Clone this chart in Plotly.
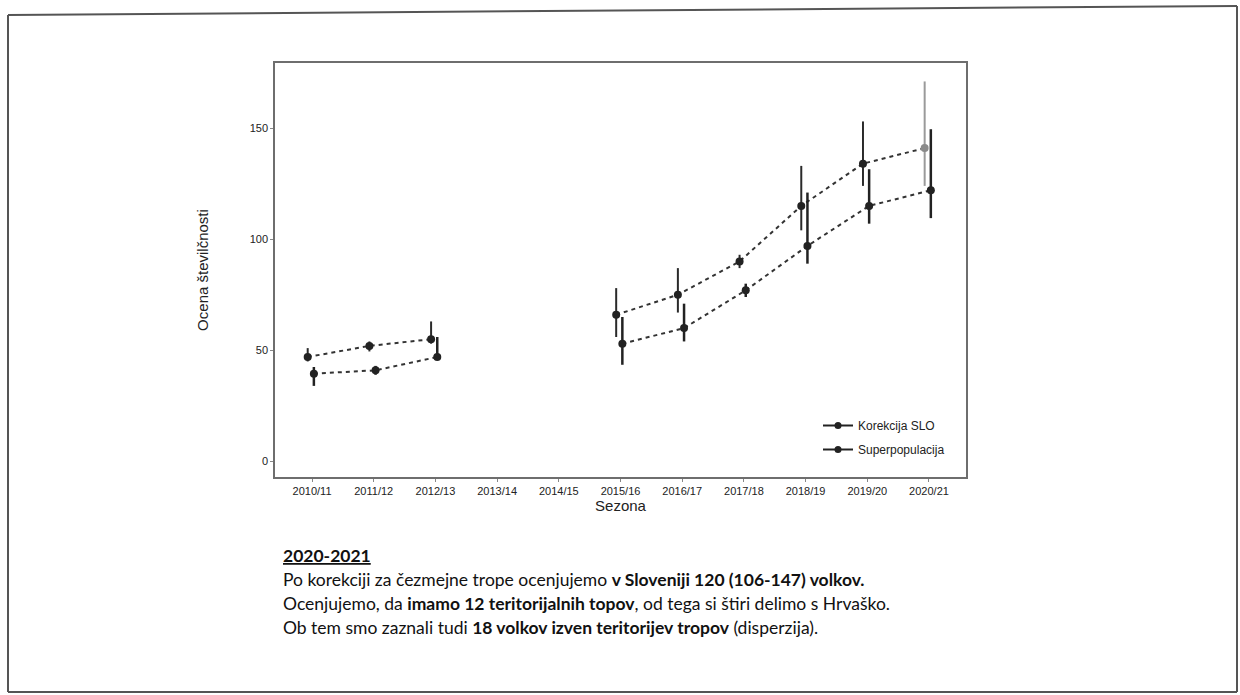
import plotly.graph_objects as go

# ---------------- data ----------------
seasons = ["2010/11", "2011/12", "2012/13", "2013/14", "2014/15", "2015/16",
           "2016/17", "2017/18", "2018/19", "2019/20", "2020/21"]

superpop = [47, 52, 55, None, None, 66, 75, 90, 115, 134, 141]
superpop_lo = [45, 49.5, 53, None, None, 56, 67, 87, 104, 124, 124]
superpop_hi = [51, 54, 63, None, None, 78, 87, 93, 133, 153, 171]

korekcija = [39.5, 41, 47, None, None, 53, 60, 77, 97, 115, 122]
korekcija_lo = [34, 39, 46, None, None, 43.5, 54, 74, 89, 107, 109.5]
korekcija_hi = [42.5, 43, 56, None, None, 65, 71, 80, 121, 131.5, 149.5]

y_ticks = [0, 50, 100, 150]

# ---------------- layout geometry ----------------
W, H = 1240, 695
L, R, T, B = 275, 966, 63, 477


def px(x):
    return (x - L) / (R - L)


def py(y):
    return (B - y) / (B - T)


idx = list(range(len(seasons)))
x_up = [i - 0.07 for i in idx]
x_lo = [i + 0.03 for i in idx]


def errs(v, lo, hi):
    plus = [(h - m) if m is not None else None for m, h in zip(v, hi)]
    minus = [(m - l) if m is not None else None for m, l in zip(v, lo)]
    return plus, minus


sp_plus, sp_minus = errs(superpop, superpop_lo, superpop_hi)
ko_plus, ko_minus = errs(korekcija, korekcija_lo, korekcija_hi)

last = len(seasons) - 1
# the last superpopulation interval is printed lighter in the reference
sp_plus_main = sp_plus[:last] + [None]
sp_minus_main = sp_minus[:last] + [None]

fig = go.Figure()

line_style = dict(color="#333333", width=2, dash="4px,4px")
up_colors = ["#222222"] * last + ["#8a8a8a"]

fig.add_trace(go.Scatter(
    x=[x_up[last]], y=[superpop[last]], mode="markers", showlegend=False,
    marker=dict(size=8, color="#8a8a8a", opacity=0),
    error_y=dict(type="data", array=[sp_plus[last]], arrayminus=[sp_minus[last]],
                 width=0, thickness=2, color="#9a9a9a"),
    hoverinfo="skip",
))
fig.add_trace(go.Scatter(
    x=x_up, y=superpop, mode="lines+markers", showlegend=False,
    line=line_style, connectgaps=False,
    marker=dict(size=8, color=up_colors),
    error_y=dict(type="data", array=sp_plus_main, arrayminus=sp_minus_main,
                 width=0, thickness=2, color="#2a2a2a"),
    name="Superpopulacija",
))
fig.add_trace(go.Scatter(
    x=x_lo, y=korekcija, mode="lines+markers", showlegend=False,
    line=line_style, connectgaps=False,
    marker=dict(size=8, color="#222222"),
    error_y=dict(type="data", array=ko_plus, arrayminus=ko_minus,
                 width=0, thickness=2.5, color="#222222"),
    name="Korekcija SLO",
))

# legend entries (solid line with dot, as in the reference)
for nm, grp in [("Korekcija SLO", "a"), ("Superpopulacija", "b")]:
    fig.add_trace(go.Scatter(
        x=[None], y=[None], mode="lines+markers", name=nm, legendgroup=grp,
        line=dict(color="#222222", width=2), marker=dict(size=7, color="#222222"),
    ))

# outer page border (scanned document frame)
border = dict(color="#555555", width=2)
fig.add_shape(type="line", xref="paper", yref="paper", x0=px(8), y0=py(15), x1=px(1237), y1=py(6), line=border)
fig.add_shape(type="line", xref="paper", yref="paper", x0=px(8), y0=py(15), x1=px(8), y1=py(692), line=border)
fig.add_shape(type="line", xref="paper", yref="paper", x0=px(1237), y0=py(6), x1=px(1237), y1=py(692), line=border)
fig.add_shape(type="line", xref="paper", yref="paper", x0=px(8), y0=py(692), x1=px(1237), y1=py(692), line=border)

# text below the chart
txt_font = dict(family="Lato, Open Sans, sans-serif", size=17.5, color="#111111")
lines = [
    ("<b><span style='text-decoration:underline'>2020-2021</span></b>", 555),
    ("Po korekciji za čezmejne trope ocenjujemo <b>v Sloveniji 120 (106-147) volkov.</b>", 579),
    ("Ocenjujemo, da <b>imamo 12 teritorijalnih topov</b>, od tega si štiri delimo s Hrvaško.", 603),
    ("Ob tem smo zaznali tudi <b>18 volkov izven teritorijev tropov</b> (disperzija).", 627),
]
for t, yy in lines:
    fig.add_annotation(text=t, xref="paper", yref="paper", x=px(281), y=py(yy),
                       xanchor="left", yanchor="middle", showarrow=False, font=txt_font)

axis_font = dict(family="Liberation Sans, Arial, sans-serif", size=11, color="#222222")
fig.update_layout(
    width=W, height=H,
    margin=dict(l=L, r=W - R, t=T, b=H - B),
    paper_bgcolor="white", plot_bgcolor="white",
    font=dict(family="Liberation Sans, Arial, sans-serif", color="#222222"),
    showlegend=True,
    legend=dict(x=px(818), y=py(411), xanchor="left", yanchor="top",
                bgcolor="rgba(0,0,0,0)", tracegroupgap=5,
                font=dict(family="Liberation Sans, Arial, sans-serif", size=12, color="#222222")),
    xaxis=dict(
        range=[-0.6, 10.6], tickmode="array", tickvals=idx, ticktext=seasons,
        showgrid=False, zeroline=False, showline=True, mirror=True,
        linecolor="#6e6e6e", linewidth=1.5, ticks="outside", ticklen=3,
        tickcolor="#888888", tickfont=axis_font,
        title=dict(text="Sezona", font=dict(size=15, color="#222222"), standoff=4),
    ),
    yaxis=dict(
        range=[-7, 179.3], tickmode="array", tickvals=y_ticks,
        showgrid=False, zeroline=False, showline=True, mirror=True,
        linecolor="#6e6e6e", linewidth=1.5, ticks="outside", ticklen=3,
        tickcolor="#888888", tickfont=axis_font,
        title=dict(text="Ocena številčnosti", font=dict(size=15, color="#222222"), standoff=37),
    ),
)

fig.write_html("out.html", config={"displayModeBar": False},
               post_script="document.body.style.margin='0';")
